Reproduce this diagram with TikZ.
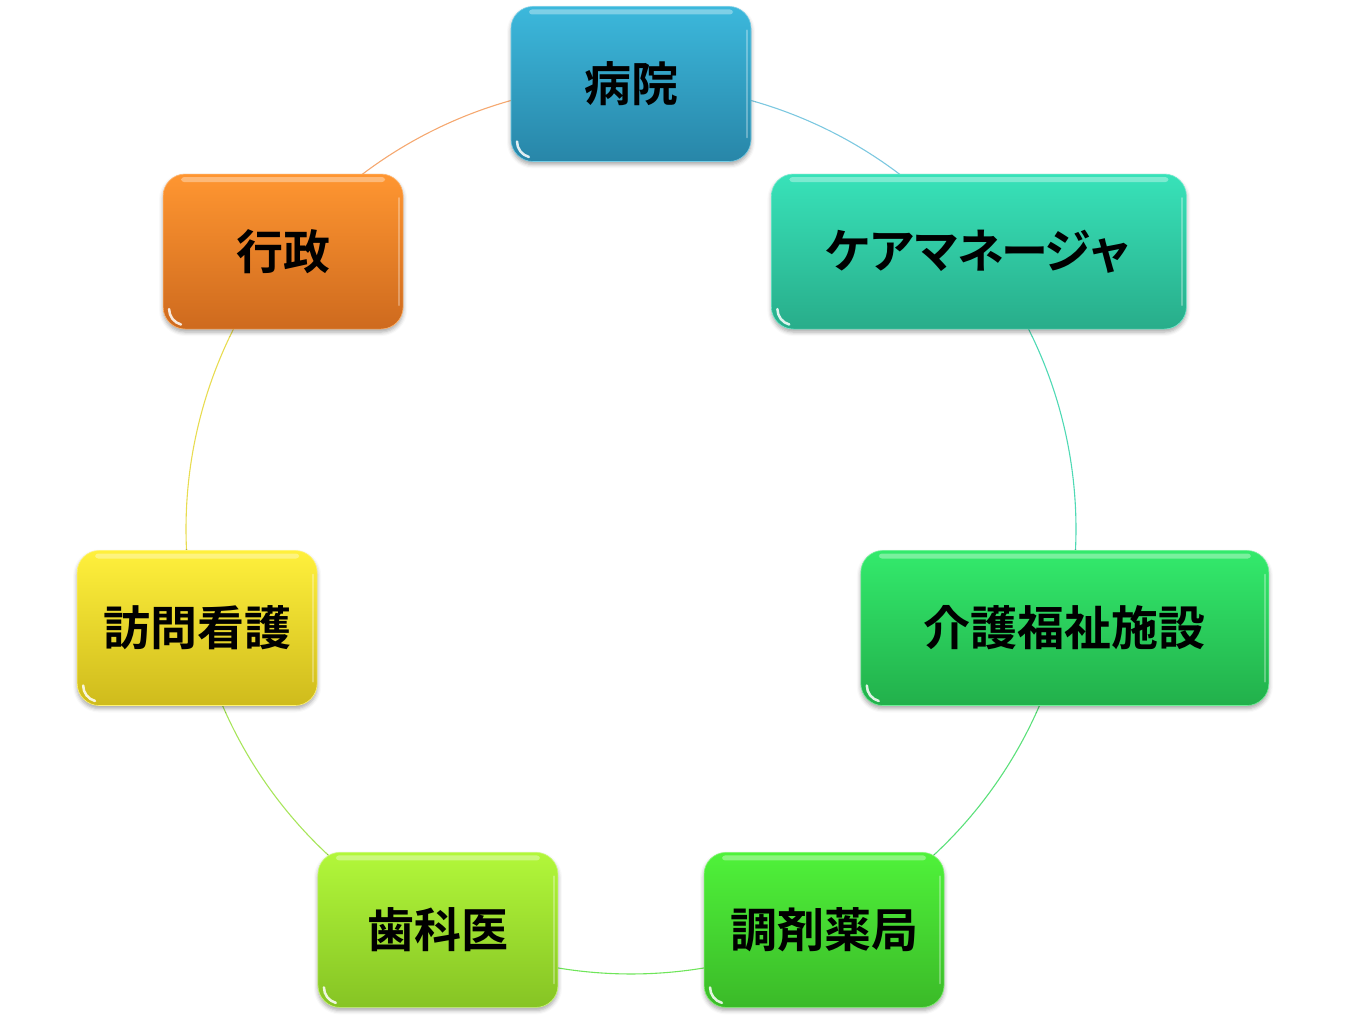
\documentclass[tikz,border=0pt]{standalone}
\usepackage{fontspec}
\newfontfamily\jp{Noto Sans CJK JP}[BoldFont={Noto Sans CJK JP Bold}]
\usetikzlibrary{shadows.blur}
\definecolor{byT}{HTML}{3CB8DC}\definecolor{byB}{HTML}{2886A8}
\definecolor{caT}{HTML}{38E2B9}\definecolor{caB}{HTML}{28AD8A}
\definecolor{kaT}{HTML}{33EA6C}\definecolor{kaB}{HTML}{22B04B}
\definecolor{chT}{HTML}{4FF23A}\definecolor{chB}{HTML}{3BBA28}
\definecolor{shT}{HTML}{B2F73A}\definecolor{shB}{HTML}{86C424}
\definecolor{hoT}{HTML}{FFF03C}\definecolor{hoB}{HTML}{CFBB1C}
\definecolor{gyT}{HTML}{FF9631}\definecolor{gyB}{HTML}{CE6A1E}
\definecolor{byA}{HTML}{7CC8E0}\definecolor{caA}{HTML}{4FD9B4}
\definecolor{kaA}{HTML}{5BE07A}\definecolor{chA}{HTML}{6FE55A}
\definecolor{shA}{HTML}{A7E55A}\definecolor{hoA}{HTML}{E8DC50}
\definecolor{gyA}{HTML}{F5A870}
\tikzset{
  cbox/.style={rounded corners=22pt, minimum height=155pt, minimum width=240pt,
    inner sep=0pt, font=\jp\bfseries\fontsize{47pt}{52pt}\selectfont, text=black,
    blur shadow={shadow xshift=0pt, shadow yshift=-3pt, shadow blur radius=4pt, shadow opacity=35},
    path picture={
      \fill[white,opacity=0.35,rounded corners=3pt]
        ([xshift=18pt,yshift=-3pt]path picture bounding box.north west) rectangle
        ([xshift=-18pt,yshift=-8pt]path picture bounding box.north east);
      \draw[white,opacity=0.3,line width=2pt,line cap=round]
        ([xshift=-4pt,yshift=-24pt]path picture bounding box.north east) --
        ([xshift=-4pt,yshift=24pt]path picture bounding box.south east);
      \draw[white,line width=2.5pt,opacity=0.85,line cap=round]
        ([xshift=6pt,yshift=20pt]path picture bounding box.south west)
        arc[start angle=180,end angle=255,radius=16pt];
    }},
  cyc/.style={line width=1.1pt}
}
\begin{document}
\begin{tikzpicture}[x=1pt,y=1pt]
\useasboundingbox (0,0) rectangle (1348,1021);
\coordinate (c) at (631,492);
% circle segments
\draw[cyc,byA] ([shift={(90:445pt)}]c) arc[start angle=90,delta angle=-51.4286,radius=445pt];
\draw[cyc,caA] ([shift={(38.5714:445pt)}]c) arc[start angle=38.5714,delta angle=-51.4286,radius=445pt];
\draw[cyc,kaA] ([shift={(-12.8571:445pt)}]c) arc[start angle=-12.8571,delta angle=-51.4286,radius=445pt];
\draw[cyc,chA] ([shift={(-64.2857:445pt)}]c) arc[start angle=-64.2857,delta angle=-51.4286,radius=445pt];
\draw[cyc,shA] ([shift={(-115.7143:445pt)}]c) arc[start angle=-115.7143,delta angle=-51.4286,radius=445pt];
\draw[cyc,hoA] ([shift={(-167.1429:445pt)}]c) arc[start angle=-167.1429,delta angle=-51.4286,radius=445pt];
\draw[cyc,gyA] ([shift={(141.4286:445pt)}]c) arc[start angle=141.4286,delta angle=-51.4286,radius=445pt];
% nodes
\node[cbox, top color=byT, bottom color=byB, draw=byT!70!white, line width=0.6pt] (byoin) at ([shift={(90:445pt)}]c) {病院};
\node[cbox, top color=caT, bottom color=caB, draw=caT!70!white, line width=0.6pt, minimum width=415pt] (care) at ([shift={(38.5714:445pt)}]c) {\addfontfeature{LetterSpace=-6}ケアマネージャ};
\node[cbox, top color=kaT, bottom color=kaB, draw=kaT!70!white, line width=0.6pt, minimum width=408pt] (kaigo) at ([shift={(-12.8571:445pt)}]c) {介護福祉施設};
\node[cbox, top color=chT, bottom color=chB, draw=chT!70!white, line width=0.6pt] (chozai) at ([shift={(-64.2857:445pt)}]c) {調剤薬局};
\node[cbox, top color=shT, bottom color=shB, draw=shT!70!white, line width=0.6pt] (shika) at ([shift={(-115.7143:445pt)}]c) {歯科医};
\node[cbox, top color=hoT, bottom color=hoB, draw=hoT!70!white, line width=0.6pt] (houmon) at ([shift={(-167.1429:445pt)}]c) {訪問看護};
\node[cbox, top color=gyT, bottom color=gyB, draw=gyT!70!white, line width=0.6pt] (gyosei) at ([shift={(141.4286:445pt)}]c) {行政};
\end{tikzpicture}
\end{document}
